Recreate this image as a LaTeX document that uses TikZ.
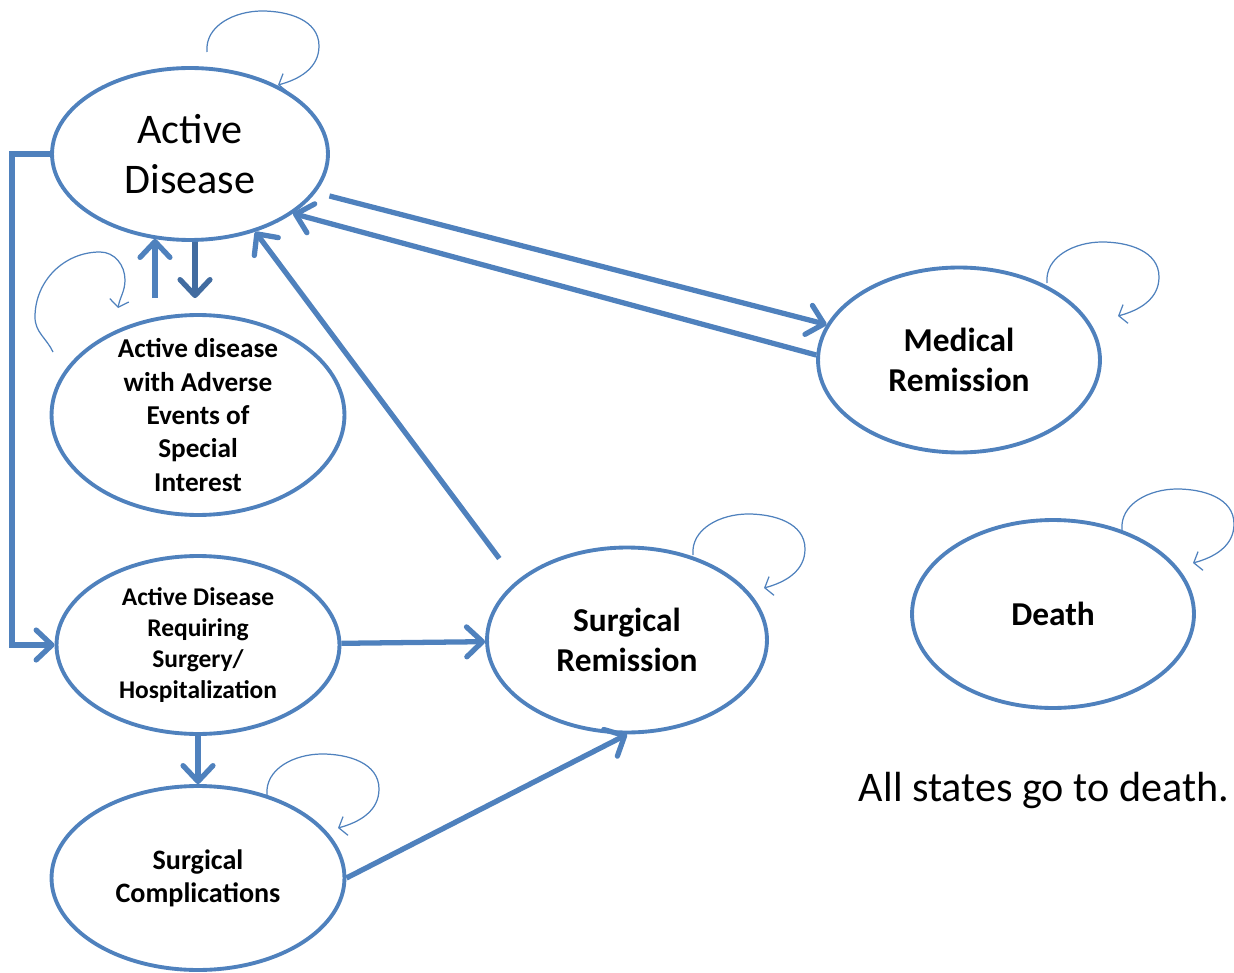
\documentclass[tikz,border=0pt]{standalone}
\usepackage{fontspec}
\setmainfont{Carlito}
\usepackage{tikz}
\usetikzlibrary{arrows.meta, shapes.geometric}
\definecolor{stateBlue}{RGB}{79,129,189}
\definecolor{darkBlue}{RGB}{66,108,160}

\begin{document}
\begin{tikzpicture}[
  x=0.02cm, y=0.02cm,
  state/.style={ellipse, draw=stateBlue, line width=2.2pt, inner sep=0pt},
  bigtext/.style={font=\fontsize{24}{28.5}\selectfont, align=center},
  midtext/.style={font=\bfseries\fontsize{19}{23}\selectfont, align=center},
  smalltext/.style={font=\bfseries\fontsize{15.5}{19}\selectfont, align=center},
  tinytext/.style={font=\bfseries\fontsize{14.5}{17.6}\selectfont, align=center},
  flow/.style={draw=stateBlue, line width=3pt, -{Straight Barb[length=9pt,width=17pt,round]}},
  selfloop/.style={draw=stateBlue, line width=0.7pt, -{Straight Barb[length=4pt,width=11pt]}}
]
\useasboundingbox (0,0) rectangle (1234,-973);

% states
\node[state, minimum width=5.52cm, minimum height=3.44cm, label={[bigtext]center:Active\\Disease}] (ad) at (190,-154) {};
\node[state, minimum width=5.86cm, minimum height=4.0cm, label={[smalltext]center:Active disease\\with Adverse\\Events of\\Special\\Interest}] (ae) at (198,-415) {};
\node[state, minimum width=5.66cm, minimum height=3.56cm, label={[tinytext]center:Active Disease\\Requiring\\Surgery/\\Hospitalization}] (surg) at (198,-645) {};
\node[state, minimum width=5.86cm, minimum height=3.68cm, label={[smalltext, font=\bfseries\fontsize{16}{18.7}\selectfont]center:Surgical\\Complications}] (sc) at (198,-878) {};
\node[state, minimum width=5.6cm, minimum height=3.7cm, label={[midtext]center:Surgical\\Remission}] (sr) at (627,-640) {};
\node[state, minimum width=5.64cm, minimum height=3.7cm, label={[midtext]center:Medical\\Remission}] (mr) at (959,-360) {};
\node[state, minimum width=5.64cm, minimum height=3.76cm, label={[midtext]center:Death}] (death) at (1053,-614) {};
\node[bigtext] (note) at (1044,-790) {All states go to death.};

% transitions
\draw[flow] (ad.west) -- ++(-38,0) |- (surg.west);
\draw[flow] ([shift={(-43,15)}]ae.north) -- ([shift={(-35,3)}]ad.south);
\draw[flow, draw=darkBlue] ([shift={(5,0)}]ad.south) -- ([shift={(-3,15)}]ae.north);
\draw[flow, shorten <=8pt] (ad.-17) -- (mr.165);
\draw[flow] (mr.178) -- (ad.-30);
\draw[flow, shorten <=16pt] (sr.152) -- (ad.-50);
\draw[flow] (surg) -- (sr);
\draw[flow] (surg) -- (sc);
\draw[flow] (sc.east) -- (sr.south);

% self loops
\foreach \sx/\sy in {207/-52, 1047/-283, 693/-555, 1122/-530, 267/-795}
  \draw[selfloop, shift={(\sx,\sy)}] (0,0) to[out=95,in=180] (55,41) to[out=0,in=90] (112,6) to[out=-90,in=15] (71,-33);
\draw[selfloop, shift={(53,-352)}] (0,0) to[out=115,in=-90] (-18,35) to[out=90,in=180] (47,100) to[out=0,in=90] (72,72) to[out=-90,in=80] (65,44);

\end{tikzpicture}
\end{document}
